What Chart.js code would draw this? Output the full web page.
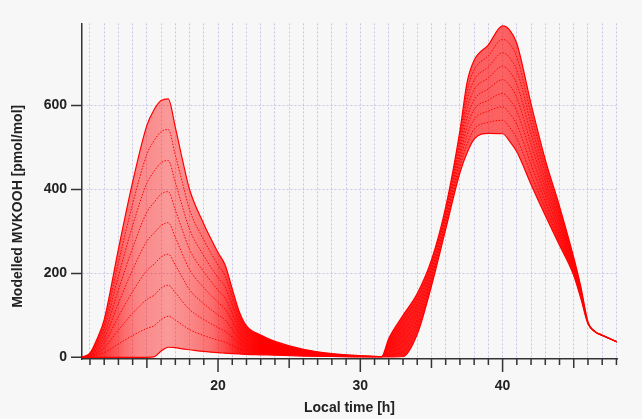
<!DOCTYPE html>
<html>
<head>
<meta charset="utf-8">
<script src="https://cdn.jsdelivr.net/npm/chart.js@4.4.0/dist/chart.umd.min.js"></script>
<style>
  html, body { margin: 0; padding: 0; background: #f7f7f7; }
  #wrap { width: 642px; height: 419px; }
</style>
</head>
<body>
<div id="wrap"><canvas id="mvkChart" width="642" height="419"></canvas></div>
<script>
// local time of the model output [h]
const hours = [10.4, 11, 11.5, 12, 13, 14, 15, 15.5, 16, 16.5, 17, 17.5, 18, 19, 20, 20.5, 21, 21.5, 22, 23,
  24, 26, 28, 30, 31.5, 32, 33, 34, 35, 36, 37, 37.5, 38, 39, 40, 40.5, 41, 42, 43, 44,
  45, 45.5, 46, 46.5, 47, 48.1];

// modelled MVKOOH [pmol/mol], highest run down to lowest run
const runTop = [0, 10, 44, 90, 258, 418, 553, 590, 612, 616, 548, 471, 400, 318, 250, 220, 163, 108, 75, 53,
  38, 19, 9, 4, 2, 45, 100, 152, 232, 358, 540, 655, 708, 745, 790, 780, 748, 604, 471, 360,
  238, 168, 85, 62, 53, 36];
const run7 = [0, 9, 39, 79, 226, 366, 484, 516, 538, 543, 482, 416, 352, 280, 220, 194, 144, 95, 67, 47,
  34, 17, 8, 4, 2, 40, 88, 140, 224, 351, 528, 634, 685, 719, 758, 747, 716, 580, 454, 348,
  233, 165, 84, 62, 53, 36];
const run6 = [0, 8, 33, 68, 194, 314, 415, 443, 464, 469, 417, 359, 305, 242, 190, 168, 125, 83, 58, 41,
  30, 15, 7, 3, 2, 34, 76, 128, 217, 345, 515, 613, 661, 692, 726, 714, 684, 556, 438, 337,
  227, 161, 84, 62, 53, 36];
const run5 = [0, 6, 28, 56, 161, 261, 346, 369, 389, 395, 351, 303, 257, 204, 160, 141, 105, 70, 50, 35,
  26, 13, 6, 3, 2, 29, 63, 116, 209, 338, 503, 592, 638, 666, 694, 681, 651, 532, 421, 325,
  222, 158, 83, 61, 53, 36];
const run4 = [0, 5, 22, 45, 129, 209, 277, 296, 314, 321, 286, 246, 209, 166, 131, 115, 86, 58, 41, 30,
  22, 11, 6, 3, 2, 23, 51, 104, 201, 332, 490, 571, 614, 640, 662, 648, 619, 508, 405, 314,
  217, 154, 83, 61, 53, 36];
const run3 = [0, 4, 17, 34, 97, 157, 207, 222, 239, 246, 220, 190, 161, 128, 101, 89, 67, 45, 33, 24,
  17, 9, 5, 2, 1, 18, 39, 91, 193, 325, 478, 550, 591, 613, 629, 614, 587, 484, 388, 302,
  211, 151, 82, 61, 52, 36];
const run2 = [0, 3, 11, 23, 65, 105, 138, 148, 165, 172, 154, 133, 114, 90, 71, 62, 48, 33, 24, 18,
  13, 7, 4, 2, 1, 12, 27, 79, 186, 318, 465, 529, 567, 587, 597, 581, 555, 460, 371, 290,
  206, 147, 81, 61, 52, 36];
const run1 = [0, 1, 6, 11, 32, 52, 69, 75, 90, 98, 89, 77, 66, 52, 41, 36, 28, 20, 16, 12,
  9, 5, 3, 1, 1, 7, 14, 67, 178, 312, 453, 508, 544, 560, 565, 548, 522, 436, 355, 279,
  200, 144, 81, 60, 52, 36];
const runBottom = [0, 0, 0, 0, 0, 0, 0, 1, 15, 24, 23, 20, 18, 14, 11, 10, 9, 8, 7, 6,
  5, 3, 2, 1, 1, 1, 2, 55, 170, 305, 440, 487, 520, 534, 533, 515, 490, 412, 338, 267,
  195, 140, 80, 60, 52, 36];

const runs = [runTop, run7, run6, run5, run4, run3, run2, run1, runBottom];

const yTickValues = [0, 200, 400, 600];
const xLabelHours = [20, 30, 40];

const axisFont = { family: 'Liberation Sans, Arial, sans-serif', size: 14, weight: 'bold' };
const gridBlue = '#c5c5e8';

// how solid the band of runs looks along the time axis (dense where runs bunch up)
const bandShade = [[10.44, 0.95], [11.5, 0.85], [12.5, 0.7], [13.5, 0.55], [14.5, 0.45], [16.5, 0.38],
  [18, 0.45], [19.5, 0.55], [20.5, 0.7], [21.5, 0.9], [23, 1], [31, 1], [33, 0.9], [35, 0.85],
  [36.5, 0.75], [38, 0.62], [40, 0.6], [41.5, 0.66], [43, 0.8], [44.5, 0.95], [48.04, 1]];

function bandFill(context) {
  const chart = context.chart;
  const area = chart.chartArea;
  if (!area) return 'rgba(255,0,0,0.5)';
  const xs = chart.scales.x;
  const g = chart.ctx.createLinearGradient(area.left, 0, area.right, 0);
  bandShade.forEach(([t, a]) => {
    const pos = (xs.getPixelForValue(t) - area.left) / (area.right - area.left);
    g.addColorStop(Math.min(1, Math.max(0, pos)), `rgba(255,0,0,${a})`);
  });
  return g;
}

// tick marks on the scales: long at 10 h, medium at 5 h, short every hour; y title drawn off-centre
const axisExtras = {
  id: 'axisExtras',
  afterDraw(chart) {
    const ctx = chart.ctx;
    const xs = chart.scales.x, ys = chart.scales.y;
    const area = chart.chartArea;
    ctx.save();
    ctx.strokeStyle = '#333';
    ctx.lineWidth = 1.5;
    ctx.beginPath();
    xs.ticks.forEach(t => {
      const px = xs.getPixelForValue(t.value);
      let len = 6;
      if (t.value % 10 === 0) len = 13;
      else if (t.value % 5 === 0) len = 9;
      ctx.moveTo(px, area.bottom);
      ctx.lineTo(px, area.bottom + len);
    });
    ys.ticks.forEach(t => {
      const py = ys.getPixelForValue(t.value);
      ctx.moveTo(area.left, py);
      ctx.lineTo(area.left - 11, py);
    });
    ctx.stroke();

    ctx.translate(area.left - 64, area.top + (area.bottom - area.top) * 0.545);
    ctx.rotate(-Math.PI / 2);
    ctx.font = 'bold 14px "Liberation Sans", Arial, sans-serif';
    ctx.fillStyle = '#222';
    ctx.textAlign = 'center';
    ctx.textBaseline = 'middle';
    ctx.fillText('Modelled MVKOOH [pmol/mol]', 0, 0);
    ctx.restore();
  }
};

const ctx = document.getElementById('mvkChart').getContext('2d');
const mvkChart = new Chart(ctx, {
  type: 'line',
  data: {
    datasets: runs.map((vals, i) => {
      const edge = i === 0 || i === runs.length - 1;
      return {
        data: hours.map((h, j) => ({ x: h, y: vals[j] })),
        borderColor: '#ff0000',
        borderWidth: edge ? 1.2 : 1,
        borderDash: edge ? [] : [1.5, 1.5],
        pointRadius: 0,
        cubicInterpolationMode: 'monotone',
        fill: i === 0 ? { target: runs.length - 1 } : false,
        backgroundColor: bandFill
      };
    })
  },
  options: {
    responsive: false,
    animation: false,
    layout: { padding: { left: 0, right: 25, top: 22, bottom: 0 } },
    plugins: { legend: { display: false }, tooltip: { enabled: false } },
    scales: {
      x: {
        type: 'linear',
        min: 10.44,
        max: 48.04,
        afterFit: s => { s.height = 60; },
        ticks: {
          stepSize: 1,
          includeBounds: false,
          autoSkip: false,
          maxRotation: 0,
          padding: 19,
          color: '#222',
          font: axisFont,
          callback: v => (xLabelHours.includes(v) ? v : '')
        },
        grid: { color: gridBlue, lineWidth: 1, drawTicks: false },
        border: { color: '#333', width: 1.5, dash: [2, 2] },
        title: { display: true, text: 'Local time [h]', color: '#222', font: axisFont, padding: { top: 0, bottom: 2 } }
      },
      y: {
        min: -4,
        max: 796,
        afterFit: s => { s.width = 82; },
        afterBuildTicks: s => { s.ticks = yTickValues.map(v => ({ value: v })); },
        ticks: {
          padding: 15,
          color: '#222',
          font: axisFont
        },
        grid: {
          color: c => (c.tick && c.tick.value === 0 ? 'rgba(0,0,0,0)' : gridBlue),
          lineWidth: 1,
          drawTicks: false
        },
        border: { color: '#333', width: 1.5, dash: [2, 2] }
      }
    }
  },
  plugins: [axisExtras]
});
</script>
</body>
</html>
